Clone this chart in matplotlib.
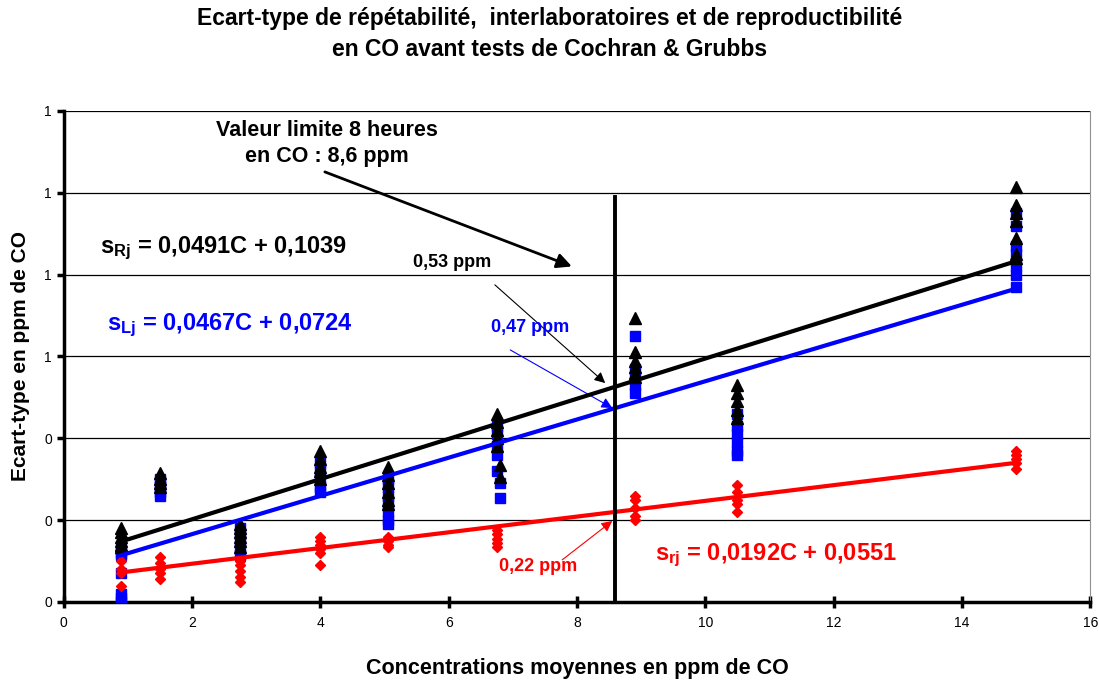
import matplotlib
matplotlib.use("Agg")
import matplotlib.pyplot as plt
from matplotlib.ticker import FuncFormatter

plt.rcParams['font.family'] = ['Liberation Sans', 'DejaVu Sans']
plt.rcParams['mathtext.fontset'] = 'custom'
plt.rcParams['mathtext.rm'] = 'Liberation Sans'
plt.rcParams['mathtext.bf'] = 'Liberation Sans:bold'

# écart-type de reproductibilité (triangles noirs)
c_R = [0.9] * 6 + [1.5] * 4 + [2.75] * 6 + [4.0] * 5 + [5.05] * 6 + [6.75] * 5 + [6.8] * 2 \
    + [8.9] * 6 + [10.5] * 5 + [14.85] * 7
s_R = [0.18, 0.17, 0.16, 0.15, 0.14, 0.135,
       0.315, 0.30, 0.29, 0.28,
       0.19, 0.18, 0.17, 0.16, 0.15, 0.135,
       0.37, 0.35, 0.33, 0.32, 0.30,
       0.33, 0.31, 0.29, 0.27, 0.25, 0.24,
       0.46, 0.44, 0.42, 0.40, 0.38, 0.335, 0.305,
       0.695, 0.61, 0.59, 0.575, 0.56, 0.55,
       0.53, 0.51, 0.49, 0.47, 0.45,
       1.015, 0.97, 0.95, 0.93, 0.89, 0.85, 0.84]

# écart-type interlaboratoires (carrés bleus)
c_L = [0.9] * 7 + [1.5] * 5 + [2.75] * 5 + [4.0] * 5 + [5.05] * 7 + [6.75] * 5 + [6.8] * 2 \
    + [8.9] * 5 + [10.5] * 6 + [14.85] * 7
s_L = [0.13, 0.12, 0.115, 0.07, 0.02, 0.01, 0.0,
       0.30, 0.29, 0.28, 0.27, 0.26,
       0.18, 0.165, 0.15, 0.13, 0.115,
       0.34, 0.32, 0.30, 0.28, 0.27,
       0.30, 0.28, 0.26, 0.24, 0.22, 0.20, 0.19,
       0.43, 0.41, 0.38, 0.36, 0.32, 0.29, 0.255,
       0.65, 0.57, 0.55, 0.53, 0.51,
       0.46, 0.43, 0.41, 0.39, 0.37, 0.36,
       0.95, 0.92, 0.87, 0.85, 0.82, 0.80, 0.77]

# écart-type de répétabilité (losanges rouges)
c_r = [0.9] * 4 + [1.5] * 5 + [2.75] * 5 + [4.0] * 6 + [5.05] * 4 + [6.75] * 5 \
    + [8.9] * 5 + [10.5] * 5 + [14.85] * 5
s_r = [0.10, 0.08, 0.07, 0.04,
       0.11, 0.095, 0.08, 0.07, 0.055,
       0.10, 0.09, 0.075, 0.06, 0.05,
       0.16, 0.15, 0.14, 0.13, 0.12, 0.09,
       0.16, 0.15, 0.14, 0.135,
       0.175, 0.165, 0.155, 0.145, 0.135,
       0.26, 0.25, 0.23, 0.21, 0.20,
       0.285, 0.27, 0.25, 0.24, 0.22,
       0.37, 0.36, 0.35, 0.34, 0.325]

# droites de régression (pente, ordonnée à l'origine)
reg_R = (0.0491, 0.1039)
reg_L = (0.0467, 0.0724)
reg_r = (0.0192, 0.0551)
c_lim = [0.9, 14.85]
valeur_limite = 8.6

fig = plt.figure(figsize=(10.99, 6.83), dpi=100)
ax = fig.add_axes([0.058, 0.1186, 0.934, 0.719])

for c, s, reg, col, mk, ms in [(c_L, s_L, reg_L, 'blue', 's', 6.5),
                              (c_R, s_R, reg_R, 'black', '^', 8),
                              (c_r, s_r, reg_r, 'red', 'D', 5.5)]:
    ax.plot(c, s, ls='none', marker=mk, color=col, ms=ms, zorder=3)
    ax.plot(c_lim, [reg[0] * c_lim[0] + reg[1], reg[0] * c_lim[1] + reg[1]],
            color=col, lw=3, zorder=4)

ax.plot([valeur_limite, valeur_limite], [0, 0.99], color='black', lw=2.8, zorder=5)

ax.set_xlim(0, 16)
ax.set_ylim(0, 1.2)
ax.set_xticks(range(0, 17, 2))
ax.set_yticks([0, 0.2, 0.4, 0.6, 0.8, 1.0, 1.2])
ax.yaxis.set_major_formatter(FuncFormatter(lambda v, p: f"{v:.0f}"))
ax.grid(axis='y', color='black', lw=0.9)
ax.set_axisbelow(True)
ax.spines['left'].set_linewidth(2.5)
ax.spines['bottom'].set_linewidth(2.5)
ax.spines['right'].set_color('#909090')
ax.spines['top'].set_visible(False)
ax.tick_params(axis='x', direction='inout', length=8, width=2.5, labelsize=10, pad=6)
ax.tick_params(axis='y', direction='out', length=5, width=2.5, labelsize=10)

ax.set_xlabel('Concentrations moyennes en ppm de CO', fontsize=15.5, fontweight='bold', labelpad=20)
ax.set_ylabel('Ecart-type en ppm de CO', fontsize=15, fontweight='bold', labelpad=10)
fig.suptitle("Ecart-type de répétabilité,  interlaboratoires et de reproductibilité\n"
             "en CO avant tests de Cochran & Grubbs",
             fontsize=16.5, fontweight='bold', y=0.99, linespacing=1.45)

# annotations
ax.text(4.1, 1.12, 'Valeur limite 8 heures\nen CO : 8,6 ppm', ha='center', va='center',
        fontsize=15.5, fontweight='bold', linespacing=1.3)
ax.annotate('', xy=(7.92, 0.82), xytext=(4.07, 1.051),
            arrowprops=dict(arrowstyle='-|>', color='black', lw=2, mutation_scale=22,
                            shrinkA=0, shrinkB=0))
ax.text(0.56, 0.865, r'$\mathbf{s_{Rj}}$ = 0,0491C + 0,1039', fontsize=17,
        fontweight='bold', color='black', va='center')
ax.text(0.67, 0.677, r'$\mathbf{s_{Lj}}$ = 0,0467C + 0,0724', fontsize=17,
        fontweight='bold', color='blue', va='center')
ax.text(9.22, 0.115, r'$\mathbf{s_{rj}}$ = 0,0192C + 0,0551', fontsize=17,
        fontweight='bold', color='red', va='center')

ax.text(6.05, 0.83, '0,53 ppm', ha='center', va='center', fontsize=13,
        fontweight='bold', color='black')
ax.annotate('', xy=(8.44, 0.535), xytext=(6.72, 0.775),
            arrowprops=dict(arrowstyle='-|>', color='black', lw=0.8, mutation_scale=16,
                            shrinkA=0, shrinkB=0))
ax.text(7.27, 0.67, '0,47 ppm', ha='center', va='center', fontsize=13,
        fontweight='bold', color='blue')
ax.annotate('', xy=(8.55, 0.474), xytext=(6.96, 0.616),
            arrowprops=dict(arrowstyle='-|>', color='blue', lw=0.8, mutation_scale=16,
                            shrinkA=0, shrinkB=0))
ax.text(7.39, 0.086, '0,22 ppm', ha='center', va='center', fontsize=13,
        fontweight='bold', color='red')
ax.annotate('', xy=(8.55, 0.198), xytext=(7.77, 0.103),
            arrowprops=dict(arrowstyle='-|>', color='red', lw=0.8, mutation_scale=16,
                            shrinkA=0, shrinkB=0))

fig.savefig('out.png', dpi=100)
